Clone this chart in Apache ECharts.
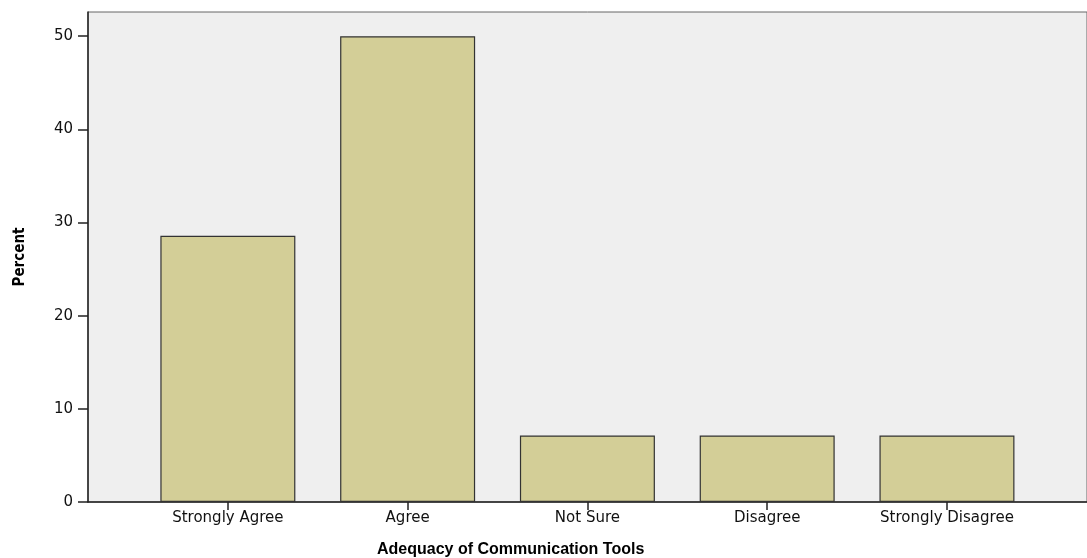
<!DOCTYPE html>
<html>
<head>
<meta charset="utf-8">
<title>Adequacy of Communication Tools</title>
<script src="https://cdn.jsdelivr.net/npm/echarts@6/dist/echarts.min.js"></script>
<style>
  html, body { margin: 0; padding: 0; background: #fff; }
  #main { width: 1087px; height: 558px; }
</style>
</head>
<body>
<div id="main"></div>
<script>
// categories and percent values
var categories = ["Strongly Agree", "Agree", "Not Sure", "Disagree", "Strongly Disagree"];
var percents = [28.57, 50, 7.14, 7.14, 7.14];
var yTicks = [0, 10, 20, 30, 40, 50];

var chart = echarts.init(document.getElementById("main"));

// bars sit on a value axis so the left padding can be wider than the right (like SPSS)
var barData = categories.map(function (c, i) { return [i, percents[i]]; });
var catIndex = categories.map(function (c, i) { return i; });

var option = {
  animation: false,
  backgroundColor: "#ffffff",
  grid: {
    left: 88,
    top: 12,
    right: -3,
    bottom: 56,
    show: true,
    backgroundColor: "#efefef",
    borderColor: "#666",
    borderWidth: 1
  },
  title: {
    text: "Adequacy of Communication Tools",
    left: 372,
    top: 537,
    textStyle: {
      fontFamily: "Liberation Sans",
      fontWeight: "bold",
      fontSize: 16,
      color: "#000"
    }
  },
  xAxis: {
    type: "value",
    min: -0.778,
    max: 4.779,
    splitLine: { show: false },
    axisLine: { show: true, onZero: false, lineStyle: { color: "#222", width: 1.5 } },
    axisTick: {
      show: true,
      customValues: catIndex,
      length: 8,
      lineStyle: { color: "#222", width: 1.5 }
    },
    axisLabel: {
      customValues: catIndex,
      margin: 9,
      fontFamily: "DejaVu Sans",
      fontSize: 15,
      color: "#111",
      formatter: function (v) { return categories[Math.round(v)]; }
    }
  },
  yAxis: {
    type: "value",
    min: 0,
    max: 52.6,
    name: "Percent",
    nameLocation: "middle",
    nameGap: 60,
    nameRotate: 90,
    nameTextStyle: {
      fontFamily: "DejaVu Sans Condensed, DejaVu Sans",
      fontWeight: "bold",
      fontSize: 15,
      color: "#000"
    },
    splitLine: { show: false },
    axisLine: { show: true, onZero: false, lineStyle: { color: "#222", width: 1.5 } },
    // only the 0..50 ticks, no tick at the top edge
    axisTick: { show: true, customValues: yTicks, length: 10, lineStyle: { color: "#222", width: 1.5 } },
    axisLabel: {
      customValues: yTicks,
      margin: 15,
      fontFamily: "DejaVu Sans",
      fontSize: 15,
      color: "#111"
    }
  },
  series: [
    {
      type: "bar",
      data: barData,
      barWidth: 135,
      itemStyle: {
        color: "#d3ce97",
        borderColor: "#333",
        borderWidth: 1.2
      }
    }
  ]
};

chart.setOption(option);
</script>
</body>
</html>
